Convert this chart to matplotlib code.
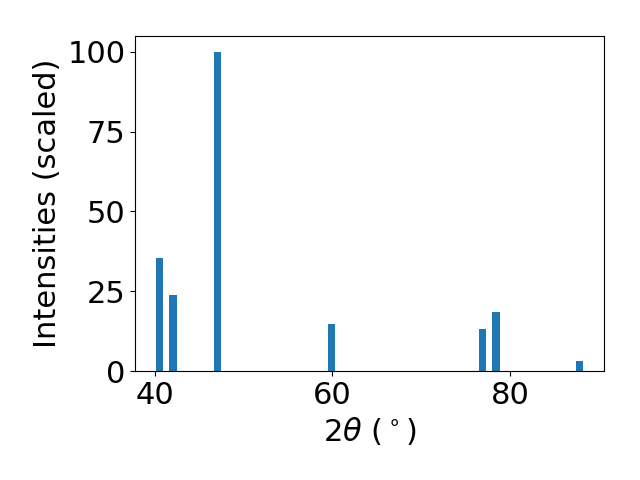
import matplotlib
matplotlib.use("Agg")
import matplotlib.pyplot as plt

# peak positions (2theta, degrees) and scaled intensities
two_theta = [40.59, 42.06, 47.03, 59.9, 76.97, 78.44, 87.82]
intensity = [35.4, 23.8, 100.0, 14.7, 13.1, 18.4, 3.1]

fig, ax = plt.subplots(figsize=(6.4, 4.8), dpi=100)
ax.bar(two_theta, intensity, width=0.8, color="#1f77b4")
ax.set_xlabel(r"$2\theta$ ($^\circ$)", fontsize=22)
ax.set_ylabel("Intensities (scaled)", fontsize=22)
ax.tick_params(labelsize=22)
ax.set_yticks([0, 25, 50, 75, 100])
ax.set_xticks([40, 60, 80])
fig.subplots_adjust(left=0.211, right=0.944, top=0.925, bottom=0.227)
fig.savefig("out.png")
